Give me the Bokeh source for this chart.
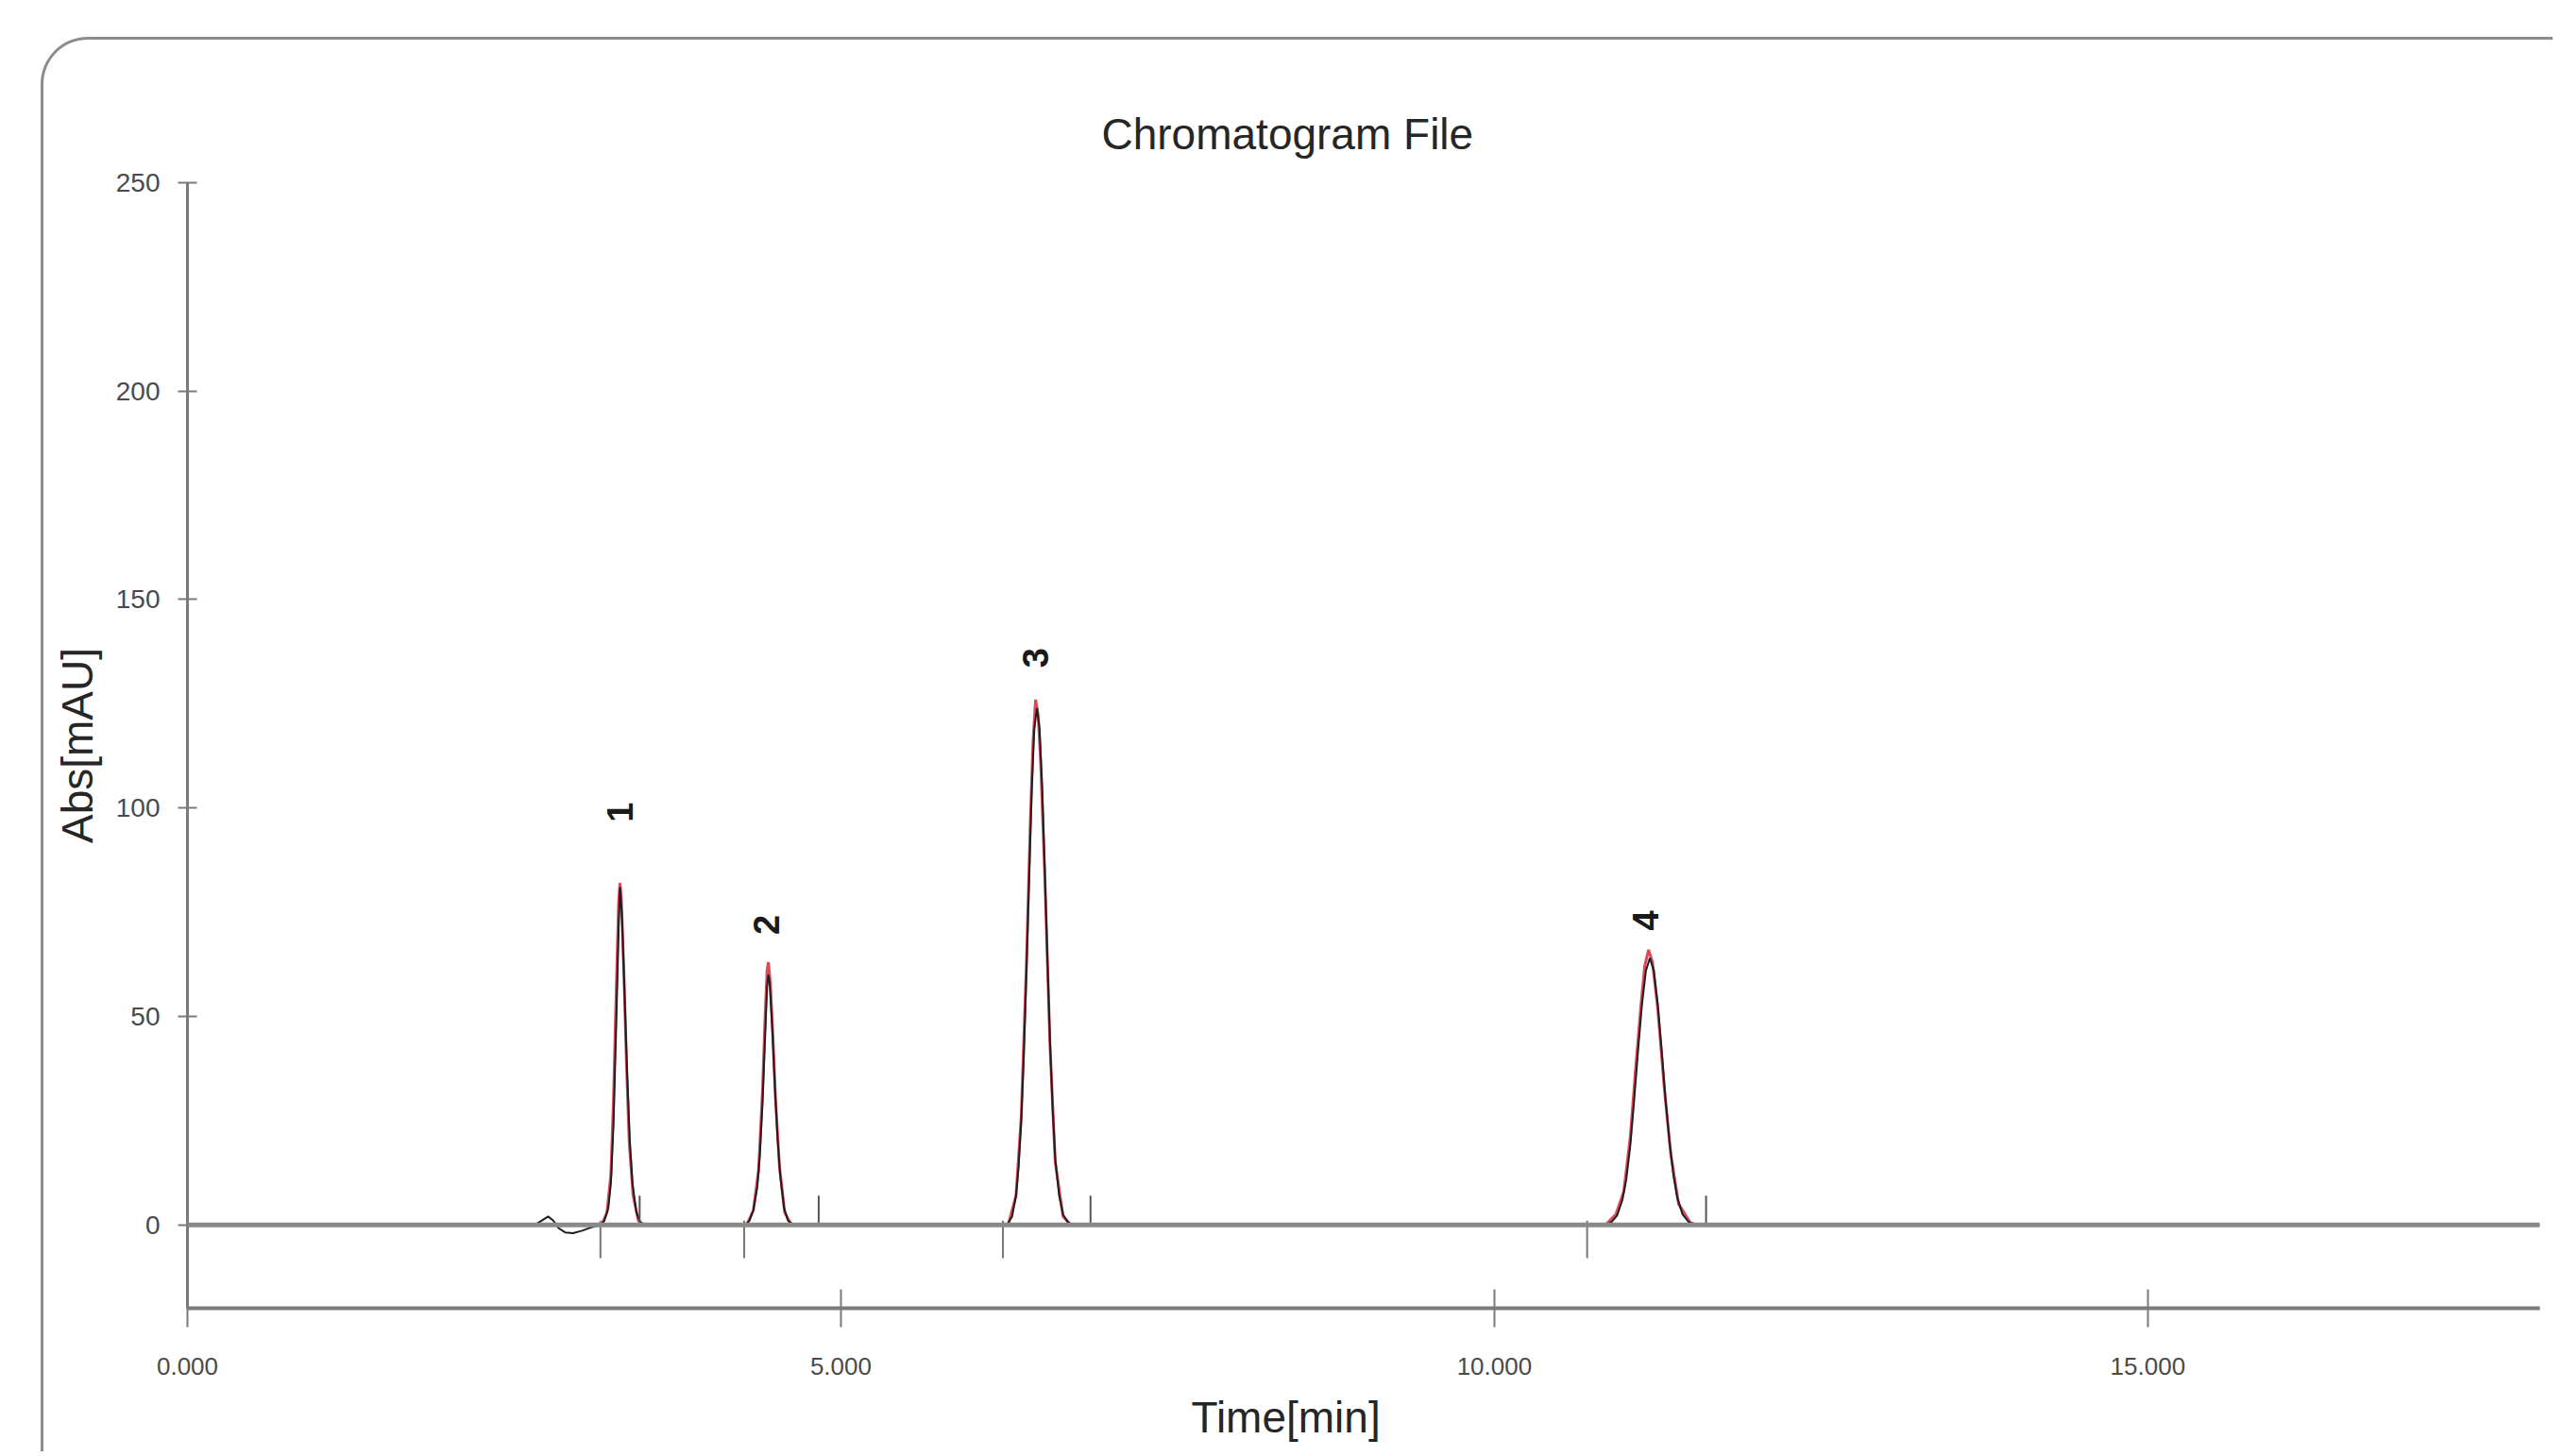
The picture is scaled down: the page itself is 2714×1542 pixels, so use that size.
from bokeh.plotting import figure
from bokeh.models import Range1d, FixedTicker, Span, Title
from bokeh.core.properties import value
from bokeh.embed import file_html
from bokeh.resources import INLINE

# ---------------- data ----------------
x_ticks = [0, 5, 10, 15]
x_tick_labels = ["0.000", "5.000", "10.000", "15.000"]
y_ticks = [0, 50, 100, 150, 200, 250]
y_tick_labels = ["0", "50", "100", "150", "200", "250"]

# black chromatogram trace (time [min], absorbance [mAU])
trace_t = [0.0, 2.66, 2.72, 2.76, 2.80, 2.84, 2.89, 2.95, 3.02, 3.10, 3.16,
           3.19, 3.22, 3.24, 3.26, 3.28, 3.30, 3.31, 3.325, 3.345, 3.365, 3.385, 3.405, 3.435, 3.465, 3.50,
           4.27, 4.30, 4.33, 4.36, 4.38, 4.40, 4.42, 4.435, 4.445, 4.455, 4.475, 4.495, 4.515, 4.535, 4.565, 4.595, 4.64,
           6.27, 6.31, 6.34, 6.36, 6.38, 6.40, 6.42, 6.44, 6.46, 6.48, 6.50, 6.52, 6.54, 6.56, 6.58, 6.60, 6.62, 6.64, 6.67, 6.70, 6.74, 6.78,
           10.86, 10.90, 10.94, 10.98, 11.01, 11.04, 11.07, 11.10, 11.13, 11.16, 11.19, 11.22, 11.25, 11.28, 11.31, 11.34, 11.37, 11.40, 11.44, 11.49, 11.54,
           18.0]
trace_abs = [0.0, 0.0, 1.2, 2.0, 1.0, -0.8, -1.8, -2.0, -1.4, -0.5, 0.0,
             1.0, 4.0, 10.0, 24.0, 47.0, 72.0, 81.0, 74.0, 55.0, 36.0, 20.0, 10.0, 3.0, 0.6, 0.0,
             0.0, 1.0, 3.5, 9.0, 17.0, 29.0, 45.0, 57.0, 60.0, 58.0, 47.0, 33.0, 21.0, 12.0, 4.0, 1.0, 0.0,
             0.0, 2.0, 7.0, 14.0, 25.0, 41.0, 61.0, 83.0, 104.0, 119.0, 124.0, 119.0, 105.0, 85.0, 64.0, 44.0, 28.0, 16.0, 7.0, 2.5, 0.5, 0.0,
             0.0, 0.8, 2.3, 6.0, 11.0, 19.0, 30.0, 42.0, 53.0, 61.0, 64.0, 61.0, 53.0, 42.0, 30.0, 20.0, 12.0, 6.5, 2.5, 0.6, 0.0,
             0.0]

# red overlay trace, one list per peak
red_peak1_t = [3.17, 3.21, 3.24, 3.26, 3.28, 3.30, 3.31, 3.32, 3.34, 3.36, 3.38, 3.41, 3.45, 3.49]
red_peak1_abs = [0, 3, 12, 30, 55, 78, 82, 78, 60, 38, 20, 7, 1, 0]
red_peak2_t = [4.28, 4.33, 4.37, 4.40, 4.42, 4.435, 4.445, 4.46, 4.48, 4.50, 4.53, 4.57, 4.62]
red_peak2_abs = [0, 3.5, 13, 32, 50, 61, 63, 58, 45, 30, 14, 3, 0]
red_peak3_t = [6.28, 6.34, 6.38, 6.42, 6.45, 6.47, 6.49, 6.51, 6.53, 6.56, 6.60, 6.64, 6.70, 6.76]
red_peak3_abs = [0, 7, 26, 63, 97, 116, 126, 122, 110, 84, 43, 15, 2, 0]
red_peak4_t = [10.85, 10.93, 10.99, 11.04, 11.08, 11.12, 11.15, 11.18, 11.21, 11.25, 11.30, 11.35, 11.41, 11.50, 11.55]
red_peak4_abs = [0, 2.5, 8, 21, 37, 52, 62, 66, 63, 52, 33, 17, 5, 0.5, 0]

# peak labels
peak_label_t = [3.31, 4.43, 6.49, 11.16]
peak_label_abs = [99, 72, 136, 73]
peak_label_text = ["1", "2", "3", "4"]

# integration start / end markers
start_marker_t = [3.16, 4.26, 6.24, 10.71]
start_marker_top = [1, 1, 1, 1]
start_marker_bottom = [-8, -8, -8, -8]
end_marker_t = [3.46, 4.83, 6.91, 11.62]
end_marker_bottom = [0, 0, 0, 0]
end_marker_top = [7, 7, 7, 7]

FONT = "Liberation Sans"

p = figure(width=2660, height=1498,
           x_range=Range1d(0, 18), y_range=Range1d(-20, 250),
           output_backend="svg", toolbar_location=None,
           min_border_left=152, min_border_right=17,
           min_border_top=151, min_border_bottom=152)
p.margin = (39, 0, 0, 43)
p.styles = {"border-left": "3px solid #8c8c8c", "border-top": "3px solid #8c8c8c",
            "border-top-left-radius": "50px"}

p.background_fill_color = None
p.border_fill_color = None
p.outline_line_color = None
p.xgrid.visible = False
p.ygrid.visible = False

# title (left-aligned with pixel offset so its centre sits where the reference has it)
p.title.text = "Chromatogram File"
p.title.align = "left"
p.title.offset = 968
p.title.text_font = FONT
p.title.text_font_size = "46px"
p.title.text_font_style = "normal"
p.title.text_color = "#262626"
p.title.standoff = 52

# x axis
xa = p.xaxis[0]
xa.ticker = FixedTicker(ticks=x_ticks)
xa.major_label_overrides = dict(zip(x_ticks, x_tick_labels))
xa.axis_line_color = "#7a7a7a"
xa.axis_line_width = 4
xa.major_tick_line_color = "#7a7a7a"
xa.major_tick_line_width = 2
xa.major_tick_in = 20
xa.major_tick_out = 20
xa.minor_tick_line_color = None
xa.major_label_standoff = 32
xa.major_label_text_font = FONT
xa.major_label_text_font_size = "26px"
xa.major_label_text_color = "#4a4a4a"

p.add_layout(Title(text="Time[min]", align="left", offset=1063, text_font=FONT,
                   text_font_size="46px", text_font_style="normal",
                   text_color="#262626", standoff=28), "below")

# y axis
ya = p.yaxis[0]
ya.ticker = FixedTicker(ticks=y_ticks)
ya.major_label_overrides = dict(zip(y_ticks, y_tick_labels))
ya.axis_line_color = "#7a7a7a"
ya.axis_line_width = 3
ya.major_tick_line_color = "#7a7a7a"
ya.major_tick_line_width = 2
ya.major_tick_in = 10
ya.major_tick_out = 10
ya.minor_tick_line_color = None
ya.major_label_standoff = 19
ya.major_label_text_font = FONT
ya.major_label_text_font_size = "28px"
ya.major_label_text_color = "#4a4a4a"
ya.axis_label = "Abs[mAU]"
ya.axis_label_text_font = FONT
ya.axis_label_text_font_size = "46px"
ya.axis_label_text_font_style = "normal"
ya.axis_label_text_color = "#262626"
ya.axis_label_standoff = 12

# baseline
p.add_layout(Span(location=0, dimension="width", line_color="#8a8a8a", line_width=5))

# red overlay
p.multi_line(xs=[red_peak1_t, red_peak2_t, red_peak3_t, red_peak4_t],
             ys=[red_peak1_abs, red_peak2_abs, red_peak3_abs, red_peak4_abs],
             line_color="#d8283a", line_width=3, line_alpha=0.85)

# black trace
p.line(trace_t, trace_abs, line_color="#1e1e1e", line_width=2)

# integration markers
p.segment(x0=start_marker_t, y0=start_marker_top, x1=start_marker_t, y1=start_marker_bottom,
          line_color="#777777", line_width=2)
p.segment(x0=end_marker_t, y0=end_marker_bottom, x1=end_marker_t, y1=end_marker_top,
          line_color="#555555", line_width=2)

# peak labels
p.text(x=peak_label_t, y=peak_label_abs, text=peak_label_text, angle=1.5708,
       text_font=value(FONT), text_font_size="38px", text_font_style="bold",
       text_color="#1a1a1a", text_align="center", text_baseline="middle")

open("out.html", "w").write(file_html(p, INLINE))
